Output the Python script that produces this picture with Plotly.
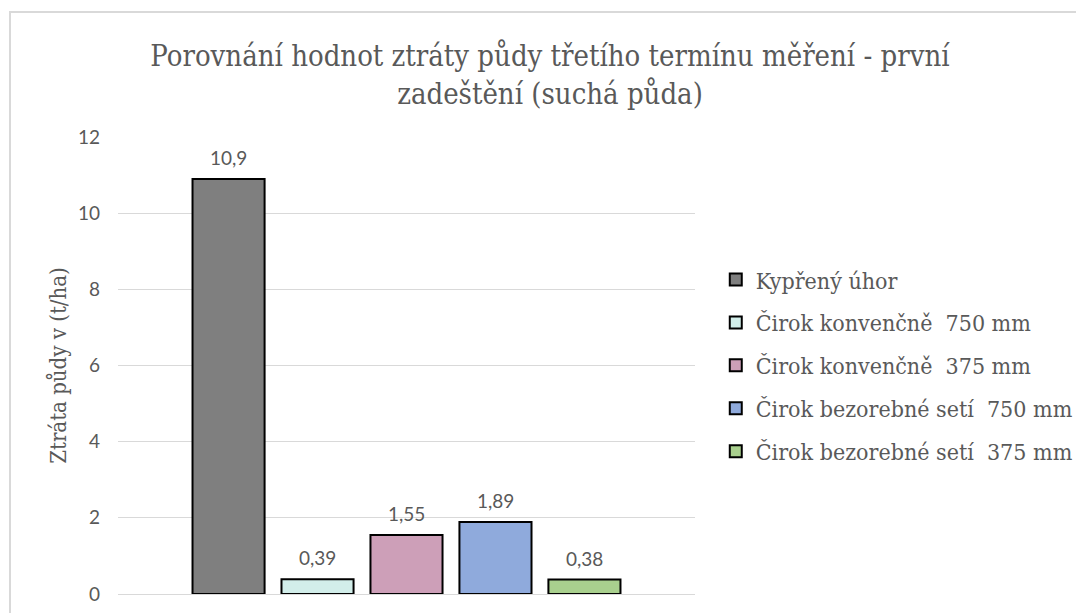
import plotly.graph_objects as go

series = ["Kypřený úhor", "Čirok konvenčně  750 mm", "Čirok konvenčně  375 mm",
          "Čirok bezorebné setí  750 mm", "Čirok bezorebné setí  375 mm"]
values = [10.9, 0.39, 1.55, 1.89, 0.38]
labels = ["10,9", "0,39", "1,55", "1,89", "0,38"]
colors = ["#7f7f7f", "#d2eeea", "#cd9fb8", "#8faadc", "#a9d08e"]
category = [""]
yticks = [0, 2, 4, 6, 8, 10, 12]

GRAY = "#595959"
SANS = "Lato"
SERIF = "DejaVu Serif Condensed, DejaVu Serif, serif"

fig = go.Figure()
for i, (name, v, c) in enumerate(zip(series, values, colors)):
    fig.add_trace(go.Bar(
        x=category, y=[v], name=name, legendgroup=f"g{i}",
        marker=dict(color=c, line=dict(color="#000000", width=2)),
        offsetgroup=str(i),
    ))

n = len(series)
bargap = 0.229
slot = (1 - bargap) / n
for i, (v, t) in enumerate(zip(values, labels)):
    xc = -0.5 + bargap / 2 + slot * (i + 0.5)
    fig.add_annotation(x=xc, y=v, xref="x", yref="y", text=t, showarrow=False,
                       yanchor="bottom", yshift=8,
                       font=dict(family=SANS, size=19, color=GRAY))

W, H = 1076, 605
fig.update_layout(
    width=W, height=H,
    margin=dict(l=110, r=389, t=129, b=19, autoexpand=False),
    paper_bgcolor="white", plot_bgcolor="white",
    barmode="group", bargap=bargap, bargroupgap=0.19,
    separators=", ",
    title=dict(text="Porovnání hodnot ztráty půdy třetího termínu měření - první<br>zadeštění (suchá půda)",
               x=542 / W, xref="container", xanchor="center",
               y=1 - 58 / H, yref="container", yanchor="middle",
               font=dict(family=SERIF, size=29, color=GRAY)),
    xaxis=dict(type="category", showticklabels=False, showgrid=False, zeroline=False,
               showline=False, range=[-0.5, 0.5]),
    yaxis=dict(range=[0, 12], tickvals=yticks, ticktext=[str(t) for t in yticks],
               showgrid=True, gridcolor="#d9d9d9", gridwidth=1, zeroline=True,
               zerolinecolor="#d9d9d9", zerolinewidth=1, showline=False,
               ticklabelstandoff=17,
               tickfont=dict(family=SANS, size=19, color=GRAY),
               title=dict(text="Ztráta půdy v (t/ha)", standoff=5,
                          font=dict(family=SERIF, size=22, color=GRAY))),
    legend=dict(x=1.036, xanchor="left", y=0.735, yanchor="top",
                traceorder="grouped", tracegroupgap=10,
                font=dict(family=SERIF, size=23, color=GRAY),
                bgcolor="rgba(0,0,0,0)", itemclick=False),
    showlegend=True,
)

fig.add_shape(type="rect", xref="paper", yref="paper",
              x0=(2 - 110) / 577, x1=(1090 - 110) / 577,
              y0=(586 - 620) / 457, y1=(586 - 4) / 457,
              line=dict(color="#d9d9d9", width=2), fillcolor="rgba(0,0,0,0)", layer="below")

fig.write_html("out.html")
